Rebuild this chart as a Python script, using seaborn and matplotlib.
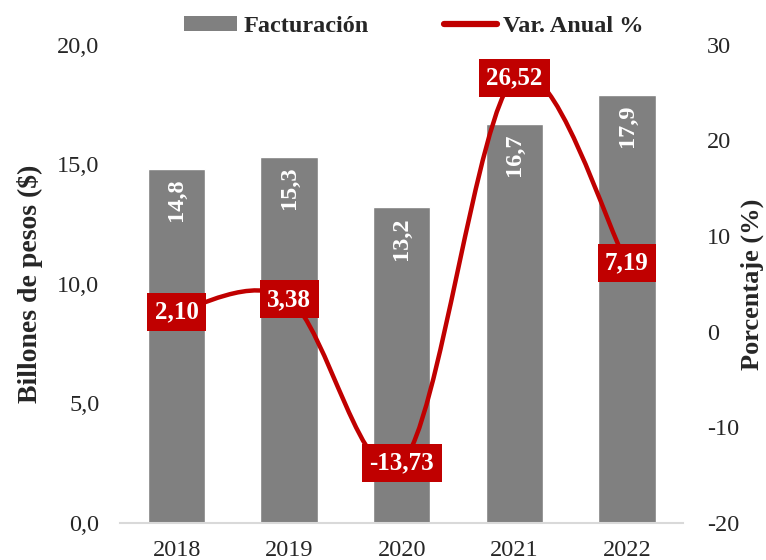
import numpy as np
import pandas as pd
import seaborn as sns
from matplotlib import pyplot as plt
from matplotlib.path import Path
from matplotlib.patches import PathPatch
from matplotlib.lines import Line2D
from matplotlib.patches import Patch

years = ['2018', '2019', '2020', '2021', '2022']
facturacion = [14.8, 15.3, 13.2, 16.7, 17.9]
var_anual = [2.10, 3.38, -13.73, 26.52, 7.19]

gray = '#808080'
red = '#C00000'

sns.set_style('white')
plt.rcParams['font.family'] = ['Liberation Serif', 'DejaVu Serif']
plt.rcParams['axes.unicode_minus'] = False

fig = plt.figure(figsize=(7.66, 5.6), dpi=100)
ax = fig.add_axes([0.157, 0.066, 0.735, 0.854])

df = pd.DataFrame({'year': years, 'fact': facturacion})
sns.barplot(data=df, x='year', y='fact', color=gray, saturation=1, width=0.51, ax=ax)
ax.set_ylim(0, 20)
ax.set_xlim(-0.5, 4.5)
ax.set_yticks([0, 5, 10, 15, 20])
ax.set_yticklabels([f'{v:.1f}'.replace('.', ',') for v in [0, 5, 10, 15, 20]])
ax.set_xlabel('')
ax.set_ylabel('Billones de pesos ($)', fontsize=20, fontweight='bold', labelpad=10)
ax.tick_params(axis='both', labelsize=17.5, length=0)
ax.tick_params(axis='y', pad=15)
ax.tick_params(axis='x', pad=12)
for s in ['top', 'right', 'left']:
    ax.spines[s].set_visible(False)
ax.spines['bottom'].set_color('#D9D9D9')
ax.spines['bottom'].set_linewidth(1.5)

for i, v in enumerate(facturacion):
    ax.annotate(f'{v:.1f}'.replace('.', ','), (i, v), xytext=(0, -7),
                textcoords='offset points', rotation=90, ha='center', va='top',
                color='white', fontsize=17.5, fontweight='bold')

ax2 = ax.twinx()
ax2.set_ylim(-20, 30)
ax2.set_yticks([-20, -10, 0, 10, 20, 30])
ax2.tick_params(axis='y', labelsize=17.5, length=0, pad=17)
for s in ['top', 'right', 'left', 'bottom']:
    ax2.spines[s].set_visible(False)
ax2.set_ylabel('Porcentaje (%)', fontsize=19, fontweight='bold', labelpad=1)

# smoothed line (Excel-style bezier through the points)
xs = np.arange(len(var_anual), dtype=float)
pts = np.column_stack([xs, var_anual])
verts = [pts[0]]
codes = [Path.MOVETO]
n = len(pts)
for i in range(n - 1):
    p0 = pts[max(i - 1, 0)]
    p1 = pts[i]
    p2 = pts[i + 1]
    p3 = pts[min(i + 2, n - 1)]
    c1 = p1 + (p2 - p0) / 6
    c2 = p2 - (p3 - p1) / 6
    verts += [c1, c2, p2]
    codes += [Path.CURVE4] * 3
ax2.add_patch(PathPatch(Path(verts, codes), fill=False, edgecolor=red, lw=3.2,
                        capstyle='round', joinstyle='round'))

for i, v in enumerate(var_anual):
    ax2.text(i, v, f'{v:.2f}'.replace('.', ','), ha='center', va='center',
             color='white', fontsize=18, fontweight='bold',
             bbox=dict(boxstyle='square,pad=0.3', fc=red, ec='none'))

handles = [Patch(facecolor=gray, edgecolor='none'),
           Line2D([0], [0], color=red, lw=4.5, solid_capstyle='round')]
fig.legend(handles, ['Facturación', 'Var. Anual %'], loc='upper center',
           bbox_to_anchor=(0.54, 1.01), ncol=2, frameon=False, columnspacing=3.1,
           handlelength=2.2, handleheight=0.55, handletextpad=0.25,
           prop={'size': 17.5, 'weight': 'bold'})

plt.savefig('out.png', dpi=100)
